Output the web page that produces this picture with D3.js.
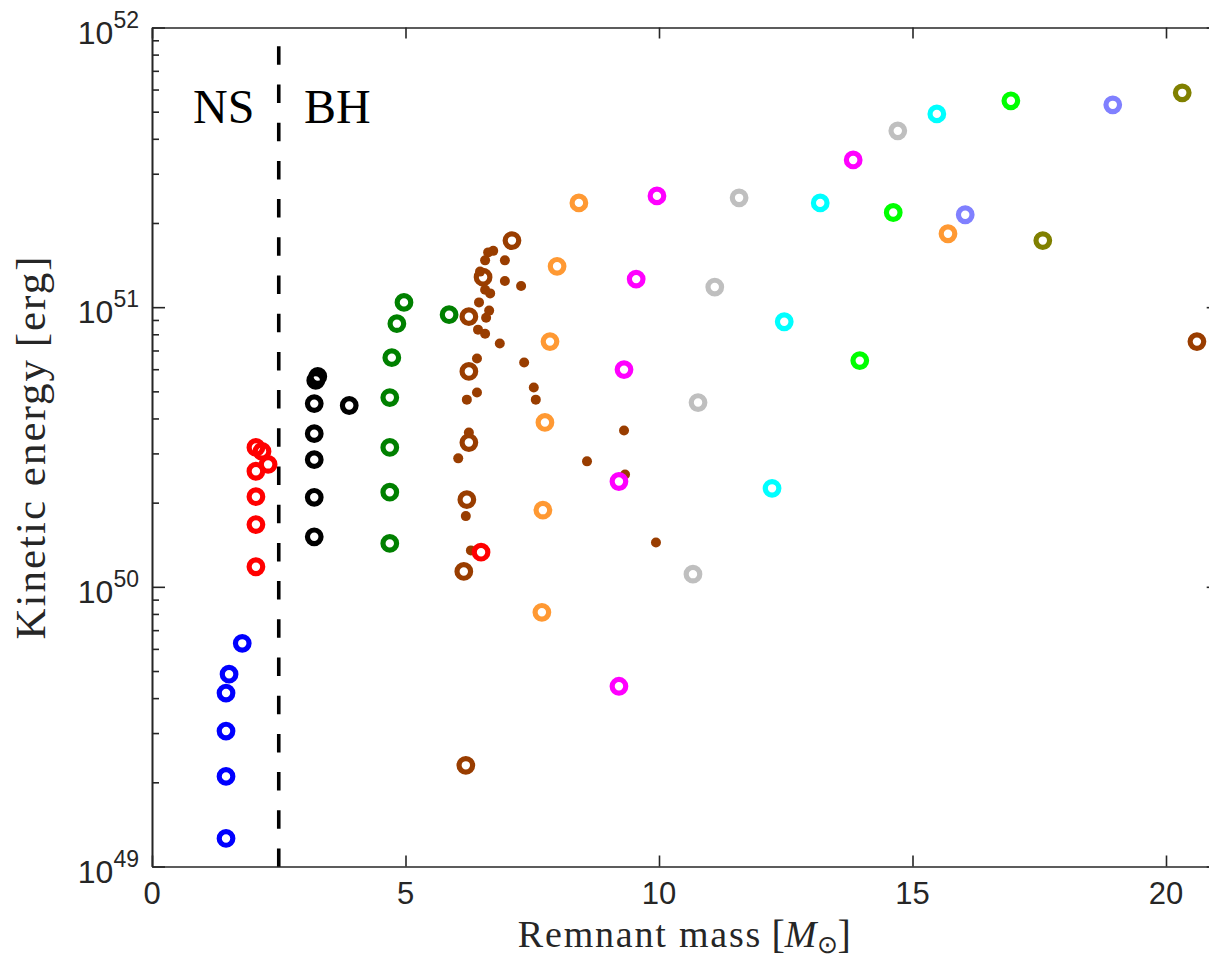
<!DOCTYPE html>
<html>
<head>
<meta charset="utf-8">
<script src="https://cdn.jsdelivr.net/npm/d3@7"></script>
<style>
  body { margin: 0; background: #fff; }
  svg { display: block; }
</style>
</head>
<body>
<svg id="plot" width="1209" height="961"></svg>
<script>
//load our svg
let svg = d3.select("#plot")

//bounds of the axes box
let margin_left = 152, margin_top = 27.5;
let plot_width = 1064.7, plot_height = 839;

//remnant mass [Msun] and kinetic energy [erg] for every model family
const blue_mass = [1.46, 1.46, 1.46, 1.46, 1.52, 1.78];
const blue_energy = [1.26e49, 2.10e49, 3.05e49, 4.17e49, 4.87e49, 6.28e49];

const red_mass = [2.05, 2.17, 2.29, 2.05, 2.05, 2.05, 2.05, 6.49];
const red_energy = [3.15e50, 3.05e50, 2.74e50, 2.59e50, 2.10e50, 1.67e50, 1.18e50, 1.33e50];

const black_mass = [3.27, 3.23, 3.20, 3.89, 3.20, 3.20, 3.20, 3.20];
const black_energy = [5.65e50, 5.47e50, 4.52e50, 4.45e50, 3.53e50, 2.85e50, 2.09e50, 1.51e50];

const dkgreen_mass = [4.97, 4.83, 4.73, 4.69, 4.69, 4.69, 4.69, 5.86];
const dkgreen_energy = [1.04e51, 8.73e50, 6.60e50, 4.75e50, 3.15e50, 2.18e50, 1.43e50, 9.40e50];

const brown_mass = [7.10, 6.53, 6.25, 6.25, 6.25, 6.21, 6.15, 6.19, 20.61];
const brown_energy = [1.73e51, 1.28e51, 9.25e50, 5.89e50, 3.28e50, 2.05e50, 1.135e50, 2.30e49, 7.53e50];

const orange_mass = [8.42, 7.99, 7.85, 7.75, 7.71, 7.69, 15.70];
const orange_energy = [2.36e51, 1.40e51, 7.53e50, 3.87e50, 1.88e50, 8.11e49, 1.83e51];

const magenta_mass = [9.96, 9.55, 9.31, 9.21, 9.21, 13.83];
const magenta_energy = [2.50e51, 1.26e51, 5.98e50, 2.38e50, 4.41e49, 3.36e51];

const gray_mass = [11.58, 11.10, 10.77, 10.67, 14.71];
const gray_energy = [2.46e51, 1.18e51, 4.56e50, 1.11e50, 4.27e51];

const cyan_mass = [15.48, 13.18, 12.47, 12.23];
const cyan_energy = [4.91e51, 2.36e51, 8.87e50, 2.25e50];

const green_mass = [16.94, 14.62, 13.96];
const green_energy = [5.47e51, 2.18e51, 6.44e50];

const ltblue_mass = [18.95, 16.04];
const ltblue_energy = [5.29e51, 2.14e51];

const olive_mass = [20.32, 17.57];
const olive_energy = [5.84e51, 1.73e51];

//small filled dots (brown family)
const dot_mass = [6.73, 6.63, 6.57, 6.96, 6.96, 7.28, 6.57, 6.67, 6.45, 6.65, 6.59, 6.43, 6.57, 6.86,
  6.41, 7.34, 6.41, 6.21, 7.53, 7.57, 9.31, 6.25, 6.04, 8.58, 9.33, 6.19, 6.29, 9.94, 6.47];
const dot_energy = [1.59e51, 1.57e51, 1.47e51, 1.47e51, 1.24e51, 1.19e51, 1.155e51, 1.12e51, 1.04e51, 9.72e50,
  9.17e50, 8.31e50, 8.04e50, 7.41e50, 6.55e50, 6.34e50, 4.95e50, 4.67e50, 5.16e50, 4.67e50, 3.62e50,
  3.56e50, 2.88e50, 2.81e50, 2.52e50, 1.79e50, 1.35e50, 1.44e50, 1.34e51];

//axis settings
const x_domain = [0, 21];
const y_domain = [1e49, 1e52];
const x_ticks = [0, 5, 10, 15, 20];
const y_ticks = [1e49, 1e50, 1e51, 1e52];
const y_exponents = ["49", "50", "51", "52"];
const ns_bh_mass = 2.5;

//build ring series from the arrays
function zip(m, e) { return m.map((v, i) => ({mass: v, energy: e[i]})); }
let ring_series = [
  {color: "#993d00", pts: zip(brown_mass, brown_energy)},
  {color: "#0000ff", pts: zip(blue_mass, blue_energy)},
  {color: "#000000", pts: zip(black_mass, black_energy)},
  {color: "#008000", pts: zip(dkgreen_mass, dkgreen_energy)},
  {color: "#ff9933", pts: zip(orange_mass, orange_energy)},
  {color: "#ff00ff", pts: zip(magenta_mass, magenta_energy)},
  {color: "#bfbfbf", pts: zip(gray_mass, gray_energy)},
  {color: "#00ffff", pts: zip(cyan_mass, cyan_energy)},
  {color: "#00ff00", pts: zip(green_mass, green_energy)},
  {color: "#8080ff", pts: zip(ltblue_mass, ltblue_energy)},
  {color: "#808000", pts: zip(olive_mass, olive_energy)},
  {color: "#ff0000", pts: zip(red_mass, red_energy)}
];
let dots = zip(dot_mass, dot_energy);

//scales
let x_scale = d3.scaleLinear(x_domain, [margin_left, margin_left + plot_width]);
let y_scale = d3.scaleLog(y_domain, [margin_top + plot_height, margin_top]);

//minor ticks for the log axis
let minor = [];
[1e49, 1e50, 1e51].forEach(d => { for (let k = 2; k <= 9; k++) minor.push(k * d); });

let axis_color = "#262626";

//clip so markers stay inside the box
svg.append("clipPath").attr("id", "clip")
  .append("rect").attr("x", margin_left).attr("y", margin_top)
  .attr("width", plot_width).attr("height", plot_height);

//NS / BH divider
svg.append("line")
  .attr("x1", x_scale(ns_bh_mass)).attr("x2", x_scale(ns_bh_mass))
  .attr("y1", y_scale(1e49) + 0.5).attr("y2", y_scale(1e52))
  .attr("stroke", "#000").attr("stroke-width", 3.6)
  .attr("stroke-dasharray", "18.5,19.7")

let gPts = svg.append("g").attr("clip-path", "url(#clip)");

//brown rings first, then the small dots, then the rest of the rings
gPts.append("g").selectAll("circle")
  .data(ring_series[0].pts)
  .join("circle")
  .attr("cx", d => x_scale(d.mass))
  .attr("cy", d => y_scale(d.energy))
  .attr("r", 6.8)
  .attr("fill", "none")
  .attr("stroke", ring_series[0].color)
  .attr("stroke-width", 5.2)

gPts.append("g").selectAll("circle")
  .data(dots)
  .join("circle")
  .attr("cx", d => x_scale(d.mass))
  .attr("cy", d => y_scale(d.energy))
  .attr("r", 5)
  .attr("fill", "#993d00")

ring_series.slice(1).forEach(s => {
  gPts.append("g").selectAll("circle")
    .data(s.pts)
    .join("circle")
    .attr("cx", d => x_scale(d.mass))
    .attr("cy", d => y_scale(d.energy))
    .attr("r", 6.8)
    .attr("fill", "none")
    .attr("stroke", s.color)
    .attr("stroke-width", 5.2)
})

//axes: ticks point inward on all four sides
function style_axis(g) {
  g.select(".domain").attr("stroke", axis_color).attr("stroke-width", 1.6);
  g.selectAll(".tick line").attr("stroke", axis_color).attr("stroke-width", 1.6);
  g.selectAll("text").remove();
}

svg.append("g")
  .attr("transform", `translate(0,${margin_top + plot_height})`)
  .call(d3.axisBottom(x_scale).tickValues(x_ticks).tickSize(-11).tickSizeOuter(0))
  .call(style_axis)

svg.append("g")
  .attr("transform", `translate(0,${margin_top})`)
  .call(d3.axisTop(x_scale).tickValues(x_ticks).tickSize(-11).tickSizeOuter(0))
  .call(style_axis)

svg.append("g")
  .attr("transform", `translate(${margin_left},0)`)
  .call(d3.axisLeft(y_scale).tickValues(y_ticks).tickSize(-13).tickSizeOuter(0))
  .call(style_axis)

svg.append("g")
  .attr("transform", `translate(${margin_left},0)`)
  .call(d3.axisLeft(y_scale).tickValues(minor).tickSize(-7).tickSizeOuter(0))
  .call(style_axis)

svg.append("g")
  .attr("transform", `translate(${margin_left + plot_width},0)`)
  .call(d3.axisRight(y_scale).tickValues(y_ticks).tickSize(-10).tickSizeOuter(0))
  .call(style_axis)

svg.append("g")
  .attr("transform", `translate(${margin_left + plot_width},0)`)
  .call(d3.axisRight(y_scale).tickValues(minor).tickSize(-6).tickSizeOuter(0))
  .call(style_axis)

//tick labels
let sans = "'Liberation Sans', Arial, Helvetica, sans-serif";
svg.append("g").selectAll("text")
  .data(x_ticks)
  .join("text")
  .attr("x", d => x_scale(d))
  .attr("y", margin_top + plot_height + 37)
  .attr("text-anchor", "middle")
  .attr("font-family", sans)
  .attr("font-size", 31)
  .attr("fill", axis_color)
  .text(d => d)

let ylab = svg.append("g").selectAll("text")
  .data(y_ticks)
  .join("text")
  .attr("x", margin_left - 13)
  .attr("y", d => y_scale(d) + 16)
  .attr("text-anchor", "end")
  .attr("font-family", sans)
  .attr("fill", axis_color)
ylab.append("tspan").attr("font-size", 32).text("10")
ylab.append("tspan").attr("font-size", 23).attr("dy", -16).text((d, i) => y_exponents[i])

//axis titles
let serif = "'Liberation Serif', 'Times New Roman', serif";
let x_lab = svg.append("text")
  .attr("x", margin_left + plot_width / 2)
  .attr("y", 947)
  .attr("text-anchor", "middle")
  .attr("font-family", serif)
  .attr("font-size", 38)
  .attr("fill", axis_color)
x_lab.append("tspan").attr("letter-spacing", 1.8).text("Remnant mass\u2009")
x_lab.append("tspan").attr("font-size", 40).attr("dy", 1).text("[")
x_lab.append("tspan").attr("font-style", "italic").attr("dy", -1).text("M")
x_lab.append("tspan").attr("font-size", 25).attr("dy", 6).text("\u2299")
x_lab.append("tspan").attr("font-size", 40).attr("dy", -5).text("]")

svg.append("text")
  .attr("text-anchor", "middle")
  .attr("transform", `translate(45,${margin_top + plot_height / 2 + 1}) rotate(-90)`)
  .attr("font-family", serif)
  .attr("font-size", 43)
  .attr("fill", axis_color)
  .attr("textLength", 383)
  .attr("lengthAdjust", "spacing")
  .text("Kinetic energy\u2009[erg]")

//region labels
svg.append("text")
  .attr("x", 193).attr("y", 123)
  .attr("font-family", serif).attr("font-size", 48)
  .attr("fill", "#000")
  .text("NS")

svg.append("text")
  .attr("x", 304).attr("y", 123)
  .attr("font-family", serif).attr("font-size", 48)
  .attr("fill", "#000")
  .text("BH")
</script>
</body>
</html>
